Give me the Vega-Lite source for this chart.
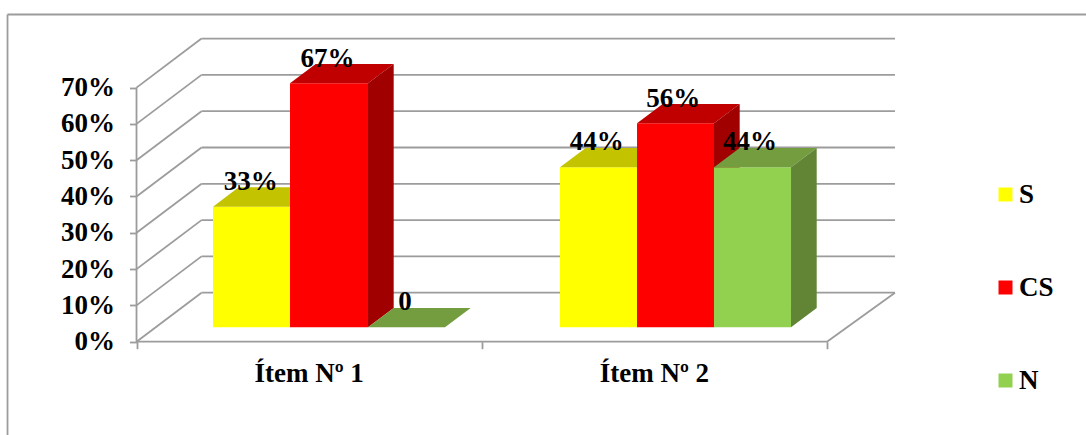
{"$schema":"https://vega.github.io/schema/vega-lite/v6.json","width":1086,"height":435,"padding":0,"autosize":{"type":"none"},"background":"white",
"config":{"view":{"stroke":null},"axis":{"grid":false,"domain":false,"title":null,"labelFont":"Liberation Serif","labelFontWeight":"bold","labelFontSize":27,"labelColor":"#000000","tickColor":"#9c9c9c","tickWidth":1.8,"tickSize":7}},
"datasets":{
"walls":[
{"x":-0.3736,"x2":2.7502,"y":90.14,"y2":90.14},{"x":-0.3736,"x2":-0.3736,"y":90.14,"y2":-25.7},
{"x":0,"x2":0,"y":0,"y2":70},{"x":0,"x2":2,"y":0,"y2":0},{"x":2,"x2":2.1969,"y":0,"y2":13.5},
{"x":0,"x2":0.1883,"y":0,"y2":13.5},{"x":0,"x2":0.1883,"y":10,"y2":23.5},{"x":0,"x2":0.1883,"y":20,"y2":33.5},{"x":0,"x2":0.1883,"y":30,"y2":43.5},{"x":0,"x2":0.1883,"y":40,"y2":53.5},{"x":0,"x2":0.1883,"y":50,"y2":63.5},{"x":0,"x2":0.1883,"y":60,"y2":73.5},{"x":0,"x2":0.1883,"y":70,"y2":83.5},
{"x":0.1883,"x2":2.1969,"y":13.5,"y2":13.5},{"x":0.1883,"x2":2.1969,"y":23.5,"y2":23.5},{"x":0.1883,"x2":2.1969,"y":33.5,"y2":33.5},{"x":0.1883,"x2":2.1969,"y":43.5,"y2":43.5},{"x":0.1883,"x2":2.1969,"y":53.5,"y2":53.5},{"x":0.1883,"x2":2.1969,"y":63.5,"y2":63.5},{"x":0.1883,"x2":2.1969,"y":73.5,"y2":73.5},{"x":0.1883,"x2":2.1969,"y":83.5,"y2":83.5}],
"bars":[
{"item":"Ítem Nº 1","serie":"S","part":"S","x":0.2215,"x2":0.4446,"y":3.97,"y2":37.2},
{"item":"Ítem Nº 1","serie":"CS","part":"CS","x":0.4446,"x2":0.6705,"y":3.97,"y2":71.2},
{"item":"Ítem Nº 1","serie":"N","part":"N","x":0.6705,"x2":0.8935,"y":3.97,"y2":3.97},
{"item":"Ítem Nº 2","serie":"S","part":"S","x":1.2266,"x2":1.4497,"y":3.97,"y2":48.04},
{"item":"Ítem Nº 2","serie":"CS","part":"CS","x":1.4497,"x2":1.6727,"y":3.97,"y2":60.17},
{"item":"Ítem Nº 2","serie":"N","part":"N","x":1.6727,"x2":1.8958,"y":3.97,"y2":48.04}],
"faces":[
{"id":"1St","serie":"S","part":"S top","x":0.2215,"y":37.2,"y2":37.2},{"id":"1St","serie":"S","part":"S top","x":0.2959,"y":37.2,"y2":42.52},{"id":"1St","serie":"S","part":"S top","x":0.4446,"y":37.2,"y2":42.52},{"id":"1St","serie":"S","part":"S top","x":0.519,"y":42.52,"y2":42.52},
{"id":"1Ss","serie":"S","part":"S side","x":0.4446,"y":3.97,"y2":37.2},{"id":"1Ss","serie":"S","part":"S side","x":0.519,"y":9.29,"y2":42.52},
{"id":"1Ct","serie":"CS","part":"CS top","x":0.4446,"y":71.2,"y2":71.2},{"id":"1Ct","serie":"CS","part":"CS top","x":0.519,"y":71.2,"y2":76.52},{"id":"1Ct","serie":"CS","part":"CS top","x":0.6705,"y":71.2,"y2":76.52},{"id":"1Ct","serie":"CS","part":"CS top","x":0.7449,"y":76.52,"y2":76.52},
{"id":"1Cs","serie":"CS","part":"CS side","x":0.6705,"y":3.97,"y2":71.2},{"id":"1Cs","serie":"CS","part":"CS side","x":0.7449,"y":9.29,"y2":76.52},
{"id":"1Nt","serie":"N","part":"N top","x":0.6705,"y":3.97,"y2":3.97},{"id":"1Nt","serie":"N","part":"N top","x":0.7449,"y":3.97,"y2":9.29},{"id":"1Nt","serie":"N","part":"N top","x":0.8935,"y":3.97,"y2":9.29},{"id":"1Nt","serie":"N","part":"N top","x":0.9679,"y":9.29,"y2":9.29},
{"id":"2St","serie":"S","part":"S top","x":1.2266,"y":48.04,"y2":48.04},{"id":"2St","serie":"S","part":"S top","x":1.301,"y":48.04,"y2":53.36},{"id":"2St","serie":"S","part":"S top","x":1.4497,"y":48.04,"y2":53.36},{"id":"2St","serie":"S","part":"S top","x":1.5241,"y":53.36,"y2":53.36},
{"id":"2Ss","serie":"S","part":"S side","x":1.4497,"y":3.97,"y2":48.04},{"id":"2Ss","serie":"S","part":"S side","x":1.5241,"y":9.29,"y2":53.36},
{"id":"2Ct","serie":"CS","part":"CS top","x":1.4497,"y":60.17,"y2":60.17},{"id":"2Ct","serie":"CS","part":"CS top","x":1.5241,"y":60.17,"y2":65.49},{"id":"2Ct","serie":"CS","part":"CS top","x":1.6727,"y":60.17,"y2":65.49},{"id":"2Ct","serie":"CS","part":"CS top","x":1.7471,"y":65.49,"y2":65.49},
{"id":"2Cs","serie":"CS","part":"CS side","x":1.6727,"y":3.97,"y2":60.17},{"id":"2Cs","serie":"CS","part":"CS side","x":1.7471,"y":9.29,"y2":65.49},
{"id":"2Nt","serie":"N","part":"N top","x":1.6727,"y":48.04,"y2":48.04},{"id":"2Nt","serie":"N","part":"N top","x":1.7471,"y":48.04,"y2":53.36},{"id":"2Nt","serie":"N","part":"N top","x":1.8958,"y":48.04,"y2":53.36},{"id":"2Nt","serie":"N","part":"N top","x":1.9702,"y":53.36,"y2":53.36},
{"id":"2Ns","serie":"N","part":"N side","x":1.8958,"y":3.97,"y2":48.04},{"id":"2Ns","serie":"N","part":"N side","x":1.9702,"y":9.29,"y2":53.36}],
"labels":[
{"t":"33%","x":0.3311,"y":41.8},{"t":"67%","x":0.5532,"y":75.6},{"t":"0","x":0.7777,"y":8.73},
{"t":"44%","x":1.333,"y":52.8},{"t":"56%","x":1.5548,"y":64.7},{"t":"44%","x":1.777,"y":52.8},
{"t":"Ítem Nº 1","x":0.5,"y":-11},{"t":"Ítem Nº 2","x":1.5,"y":-11}]
},
"encoding":{
"x":{"field":"x","type":"quantitative","scale":{"domain":[-0.3954,2.7502],"nice":false,"zero":false},"axis":{"values":[0,1,2],"labels":false,"orient":"bottom","offset":-93.3}},
"y":{"field":"y","type":"quantitative","scale":{"domain":[-25.7,94.13],"nice":false,"zero":false},"axis":{"values":[0,10,20,30,40,50,60,70],"orient":"left","offset":-136.5,"labelPadding":15,"labelExpr":"datum.value + '%'"}}
},
"layer":[
{"data":{"name":"walls"},"mark":{"type":"rule","color":"#9c9c9c","strokeWidth":1.8},"encoding":{"x2":{"field":"x2"},"y2":{"field":"y2"}}},
{"data":{"name":"bars"},"transform":[{"filter":"datum.serie==='S'"}],"mark":{"type":"rect"},"encoding":{"x2":{"field":"x2"},"y2":{"field":"y2"},"fill":{"field":"part","type":"nominal","scale":{"domain":["S","CS","N","S top","S side","CS top","CS side","N top","N side"],"range":["#ffff00","#ff0000","#92d050","#c3c300","#a0a000","#c00000","#a00000","#739d3f","#618535"]},"legend":{"values":["S","CS","N"],"title":null,"orient":"none","legendX":992,"legendY":181,"symbolType":"square","symbolSize":196,"symbolStrokeWidth":0,"rowPadding":65,"labelOffset":0,"labelFont":"Liberation Serif","labelFontWeight":"bold","labelFontSize":27,"labelColor":"#000000"}}}},
{"data":{"name":"faces"},"transform":[{"filter":"datum.serie==='S'"}],"mark":{"type":"area","interpolate":"linear"},"encoding":{"y2":{"field":"y2"},"detail":{"field":"id"},"fill":{"field":"part","type":"nominal"}}},
{"data":{"name":"bars"},"transform":[{"filter":"datum.serie==='CS'"}],"mark":{"type":"rect"},"encoding":{"x2":{"field":"x2"},"y2":{"field":"y2"},"fill":{"field":"part","type":"nominal"}}},
{"data":{"name":"faces"},"transform":[{"filter":"datum.serie==='CS'"}],"mark":{"type":"area","interpolate":"linear"},"encoding":{"y2":{"field":"y2"},"detail":{"field":"id"},"fill":{"field":"part","type":"nominal"}}},
{"data":{"name":"bars"},"transform":[{"filter":"datum.serie==='N'"}],"mark":{"type":"rect"},"encoding":{"x2":{"field":"x2"},"y2":{"field":"y2"},"fill":{"field":"part","type":"nominal"}}},
{"data":{"name":"faces"},"transform":[{"filter":"datum.serie==='N'"}],"mark":{"type":"area","interpolate":"linear"},"encoding":{"y2":{"field":"y2"},"detail":{"field":"id"},"fill":{"field":"part","type":"nominal"}}},
{"data":{"name":"labels"},"mark":{"type":"text","font":"Liberation Serif","fontWeight":"bold","fontSize":27,"color":"#000000","baseline":"alphabetic","align":"center"},"encoding":{"text":{"field":"t"}}}
]}
